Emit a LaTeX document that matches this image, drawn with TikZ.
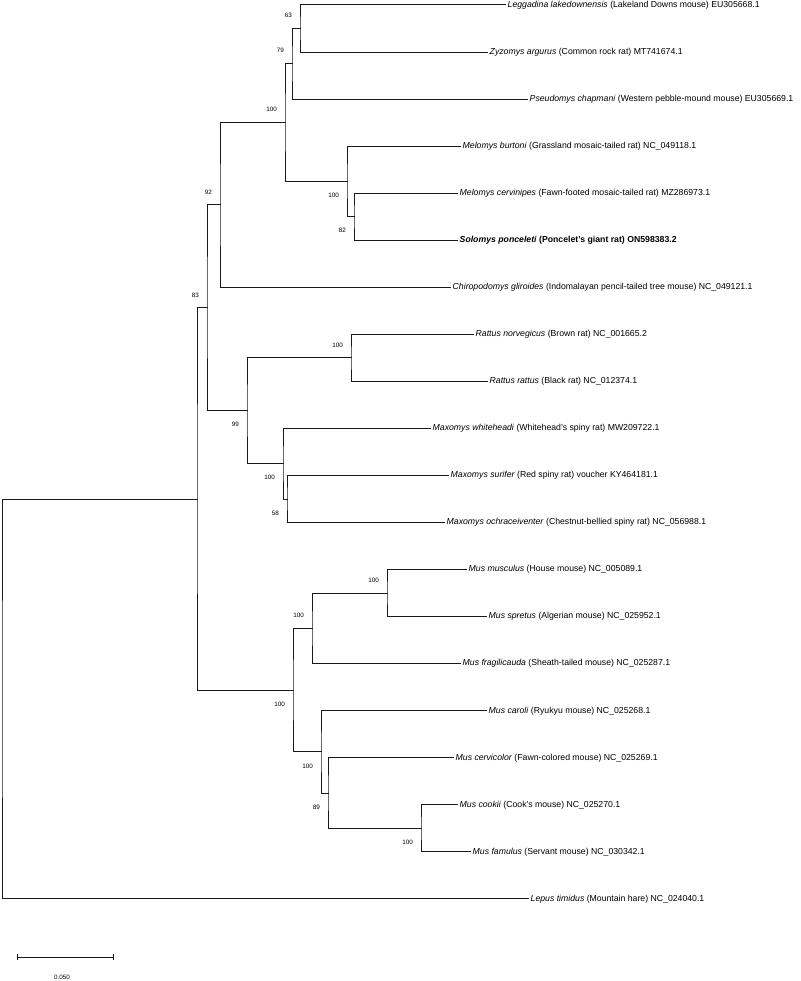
\documentclass[tikz,border=0pt]{standalone}
\usepackage{fontspec}
\setmainfont{Liberation Sans}
\begin{document}
\begin{tikzpicture}[x=1pt,y=-1pt,
  br/.style={line width=1pt, black!90, line cap=rect},
  leaf/.style={anchor=west, inner xsep=2.5pt, inner ysep=0pt, font=\fontsize{8.7}{10}\selectfont},
  bs/.style={font=\fontsize{6.3}{7}\selectfont, inner sep=0pt, anchor=east, xshift=-8pt},
  bsup/.style={bs, yshift=13pt},
  bsdn/.style={bs, yshift=-14pt}]
\useasboundingbox (0,0) rectangle (800,981);

% leaves
\node[leaf] (l1)  at (505,5)      {\textit{Leggadina lakedownensis} (Lakeland Downs mouse) EU305668.1};
\node[leaf] (l2)  at (487,52.05)  {\textit{Zyzomys argurus} (Common rock rat) MT741674.1};
\node[leaf] (l3)  at (527,99.1)   {\textit{Pseudomys chapmani} (Western pebble-mound mouse) EU305669.1};
\node[leaf] (l4)  at (460,146.15) {\textit{Melomys burtoni} (Grassland mosaic-tailed rat) NC\_049118.1};
\node[leaf] (l5)  at (457,193.2)  {\textit{Melomys cervinipes} (Fawn-footed mosaic-tailed rat) MZ286973.1};
\node[leaf] (l6)  at (457,240.25) {\bfseries\textit{Solomys ponceleti} (Poncelet's giant rat) ON598383.2};
\node[leaf] (l7)  at (450,287.3)  {\textit{Chiropodomys gliroides} (Indomalayan pencil-tailed tree mouse) NC\_049121.1};
\node[leaf] (l8)  at (473,334.35) {\textit{Rattus norvegicus} (Brown rat) NC\_001665.2};
\node[leaf] (l9)  at (487,381.4)  {\textit{Rattus rattus} (Black rat) NC\_012374.1};
\node[leaf] (l10) at (430,428.45) {\textit{Maxomys whiteheadi} (Whitehead's spiny rat) MW209722.1};
\node[leaf] (l11) at (448,475.5)  {\textit{Maxomys surifer} (Red spiny rat) voucher KY464181.1};
\node[leaf] (l12) at (444,522.55) {\textit{Maxomys ochraceiventer} (Chestnut-bellied spiny rat) NC\_056988.1};
\node[leaf] (l13) at (466,569.6)  {\textit{Mus musculus} (House mouse) NC\_005089.1};
\node[leaf] (l14) at (486,616.65) {\textit{Mus spretus} (Algerian mouse) NC\_025952.1};
\node[leaf] (l15) at (460,663.7)  {\textit{Mus fragilicauda} (Sheath-tailed mouse) NC\_025287.1};
\node[leaf] (l16) at (486,710.75) {\textit{Mus caroli} (Ryukyu mouse) NC\_025268.1};
\node[leaf] (l17) at (453,757.8)  {\textit{Mus cervicolor} (Fawn-colored mouse) NC\_025269.1};
\node[leaf] (l18) at (457,804.85) {\textit{Mus cookii} (Cook's mouse) NC\_025270.1};
\node[leaf] (l19) at (470,851.9)  {\textit{Mus famulus} (Servant mouse) NC\_030342.1};
\node[leaf] (l20) at (528,898.95) {\textit{Lepus timidus} (Mountain hare) NC\_024040.1};

% internal nodes
\coordinate (A)  at (300,28.5);
\coordinate (B)  at (292,63.8);
\coordinate (E)  at (354,216.7);
\coordinate (D)  at (347,181.4);
\coordinate (C)  at (285,122.6);
\coordinate (F)  at (220,204.95);
\coordinate (I)  at (351,357.9);
\coordinate (K)  at (287,499.0);
\coordinate (J)  at (283,463.7);
\coordinate (H)  at (247,410.8);
\coordinate (G)  at (207,307.9);
\coordinate (O)  at (387,593.1);
\coordinate (N)  at (312,628.4);
\coordinate (S)  at (421,828.4);
\coordinate (Q)  at (328,793.1);
\coordinate (P)  at (321,751.9);
\coordinate (M)  at (293,690.2);
\coordinate (R1) at (197,499.05);
\coordinate (root) at (2,699);

% branches
\draw[br] (l1.west) -| (A) |- (l2.west);
\draw[br] (A) -| (B) |- (l3.west);
\draw[br] (l5.west) -| (E) |- (l6.west);
\draw[br] (l4.west) -| (D) |- (E);
\draw[br] (B) -| (C) |- (D);
\draw[br] (C) -| (F) |- (l7.west);
\draw[br] (l8.west) -| (I) |- (l9.west);
\draw[br] (l11.west) -| (K) |- (l12.west);
\draw[br] (l10.west) -| (J) |- (K);
\draw[br] (I) -| (H) |- (J);
\draw[br] (F) -| (G) |- (H);
\draw[br] (l13.west) -| (O) |- (l14.west);
\draw[br] (O) -| (N) |- (l15.west);
\draw[br] (l18.west) -| (S) |- (l19.west);
\draw[br] (l17.west) -| (Q) |- (S);
\draw[br] (l16.west) -| (P) |- (Q);
\draw[br] (N) -| (M) |- (P);
\draw[br] (G) -| (R1) |- (M);
\draw[br] (R1) -| (root) |- (l20.west);

% bootstrap values
\node[bsup] (bA) at (A) {63};
\node[bsup] (bB) at (B) {79};
\node[bsup] (bC) at (C) {100};
\node[bsdn] (bD) at (D) {100};
\node[bsdn] (bE) at (E) {82};
\node[bsup] (bF) at (F) {92};
\node[bsup] (bG) at (G) {83};
\node[bsdn] (bH) at (H) {99};
\node[bsup] (bI) at (I) {100};
\node[bsdn] (bJ) at (J) {100};
\node[bsdn] (bK) at (K) {58};
\node[bsup] (bO) at (O) {100};
\node[bsup] (bN) at (N) {100};
\node[bsdn] (bM) at (M) {100};
\node[bsdn] (bP) at (P) {100};
\node[bsdn] (bQ) at (Q) {89};
\node[bsdn] (bS) at (S) {100};

% scale bar
\coordinate (sb1) at (17,957);
\coordinate (sb2) at (113,957);
\draw[br, line cap=butt] (sb1) -- (sb2);
\draw[br, line cap=butt] ([yshift=3pt]sb1) -- ([yshift=-3pt]sb1);
\draw[br, line cap=butt] ([yshift=3pt]sb2) -- ([yshift=-3pt]sb2);
\node[font=\fontsize{6.3}{7}\selectfont, inner sep=0pt] (sbl) at (62,977) {0.050};
\end{tikzpicture}
\end{document}
